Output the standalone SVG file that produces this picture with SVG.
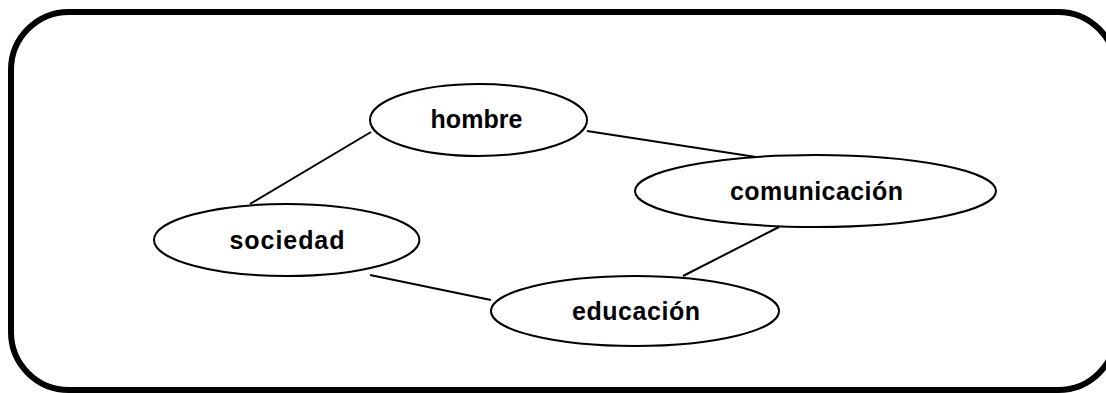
<svg xmlns="http://www.w3.org/2000/svg" width="1106" height="393" viewBox="0 0 1106 393">
<style>
.frame{fill:none;stroke:#000;stroke-width:6}
.node ellipse{fill:#fff;stroke:#000;stroke-width:2}
.node text{font-family:"Liberation Sans",Arial,sans-serif;font-weight:bold;font-size:25px;fill:#000;text-anchor:middle}
.edges line{stroke:#000;stroke-width:2}
</style>
<rect width="1106" height="393" fill="#fff"/>
<rect class="frame" x="11" y="12" width="1105" height="378" rx="58" ry="58"/>
<g class="edges" id="connectors">
<line x1="371" y1="132" x2="250" y2="204"/>
<line x1="587" y1="131" x2="756" y2="157"/>
<line x1="779" y1="227" x2="683" y2="276"/>
<line x1="370" y1="275" x2="491" y2="300"/>
</g>
<g class="node" id="hombre">
<ellipse cx="478.5" cy="120" rx="108.5" ry="36"/>
<text x="476.5" y="127.5" textLength="92" lengthAdjust="spacing">hombre</text>
</g>
<g class="node" id="comunicacion">
<ellipse cx="815.5" cy="191" rx="180.5" ry="36"/>
<text x="816.5" y="200" textLength="173" lengthAdjust="spacing">comunicación</text>
</g>
<g class="node" id="sociedad">
<ellipse cx="286.7" cy="240" rx="132.7" ry="36"/>
<text x="287" y="248.5" textLength="115" lengthAdjust="spacing">sociedad</text>
</g>
<g class="node" id="educacion">
<ellipse cx="635" cy="311" rx="144" ry="35"/>
<text x="636" y="320" textLength="128" lengthAdjust="spacing">educación</text>
</g>
</svg>
